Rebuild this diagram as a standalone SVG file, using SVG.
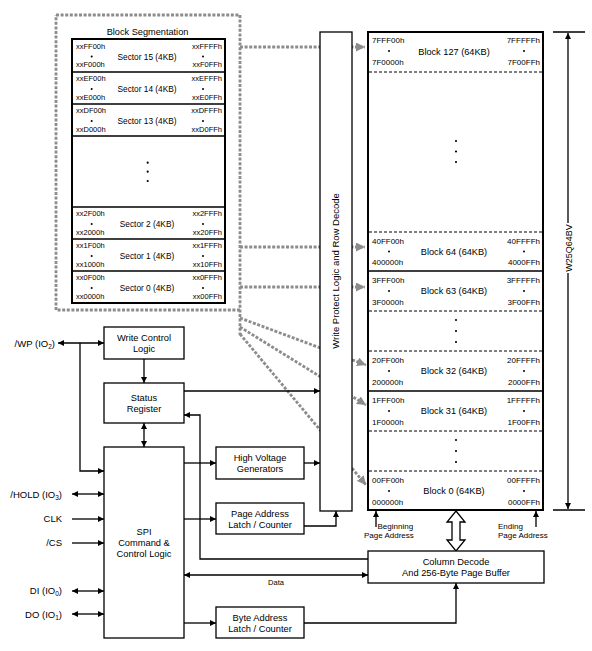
<svg xmlns="http://www.w3.org/2000/svg" width="592" height="651" viewBox="0 0 592 651">
<style>
.t{font-family:"Liberation Sans",Arial,Helvetica,sans-serif;fill:#000}
.bx{font-size:9.3px;text-anchor:middle}
.pin{font-size:9.5px;text-anchor:end}
.sa{font-size:7.5px}
.sl{font-size:8.3px;text-anchor:middle}
.ma{font-size:8px}
.ml{font-size:9.2px;text-anchor:middle}
.sm{font-size:8px}
.e{text-anchor:end}
.box{fill:#fff;stroke:#000;stroke-width:1.3}
.thick{fill:#fff;stroke:#000;stroke-width:2}
.ln{fill:none;stroke:#000;stroke-width:1.3}
.sep{fill:none;stroke:#000;stroke-width:1.5}
.dash{fill:none;stroke:#000;stroke-width:1;stroke-dasharray:3 2}
.dot{fill:none;stroke:#8c8c8c;stroke-width:2.8;stroke-dasharray:3 1.6}
</style>
<defs>
<marker id="a" viewBox="0 0 10 10" refX="10" refY="5" markerWidth="8" markerHeight="6" markerUnits="userSpaceOnUse" orient="auto-start-reverse"><path d="M0,0L10,5L0,10z" fill="#000"/></marker>
<marker id="g" viewBox="0 0 10 10" refX="10" refY="5" markerWidth="9" markerHeight="9" markerUnits="userSpaceOnUse" orient="auto"><path d="M0,0L10,5L0,10z" fill="#8c8c8c"/></marker>
</defs>
<rect width="592" height="651" fill="#fff"/>

<g id="connectors">
  <!-- dotted segmentation links -->
  <path class="dot" d="M56,15H240V335M240,310H56V15"/>
  <path class="dot" d="M240,47H365" marker-end="url(#g)"/>
  <path class="dot" d="M240,247H365" marker-end="url(#g)"/>
  <path class="dot" d="M240,287H365" marker-end="url(#g)"/>
  <path class="dot" d="M240,318L366,365" marker-end="url(#g)"/>
  <path class="dot" d="M240,327L366,405" marker-end="url(#g)"/>
  <path class="dot" d="M240,334L366,485" marker-end="url(#g)"/>
  <!-- pins -->
  <path class="ln" d="M58,343H104" marker-start="url(#a)" marker-end="url(#a)"/>
  <path class="ln" d="M80,343V471H104" marker-end="url(#a)"/>
  <path class="ln" d="M72,494H104" marker-start="url(#a)" marker-end="url(#a)"/>
  <path class="ln" d="M72,519H104" marker-end="url(#a)"/>
  <path class="ln" d="M72,543H104" marker-end="url(#a)"/>
  <path class="ln" d="M72,591H104" marker-start="url(#a)" marker-end="url(#a)"/>
  <path class="ln" d="M72,614H104" marker-start="url(#a)" marker-end="url(#a)"/>
  <!-- internal -->
  <path class="ln" d="M144,359V383" marker-end="url(#a)"/>
  <path class="ln" d="M144,423V447" marker-start="url(#a)" marker-end="url(#a)"/>
  <path class="ln" d="M184,391H320" marker-end="url(#a)"/>
  <path class="ln" d="M368,559H200V415H184" marker-end="url(#a)"/>
  <path class="ln" d="M184,463H216" marker-end="url(#a)"/>
  <path class="ln" d="M304,463H320" marker-end="url(#a)"/>
  <path class="ln" d="M184,519H216" marker-end="url(#a)"/>
  <path class="ln" d="M304,526H336V511" marker-end="url(#a)"/>
  <path class="ln" d="M184,575H368" marker-start="url(#a)" marker-end="url(#a)"/>
  <path class="ln" d="M184,623H216" marker-end="url(#a)"/>
  <path class="ln" d="M304,623H456V583" marker-end="url(#a)"/>
  <path class="ln" d="M376,527V511" marker-end="url(#a)"/>
  <path class="ln" d="M536,527V511" marker-end="url(#a)"/>
  <path d="M456,511L465,522H460V540H465L456,551L447,540H452V522H447Z" fill="#fff" stroke="#000" stroke-width="1.3"/>
  <!-- dimension -->
  <path class="ln" d="M553,32H585M553,510H585"/>
  <path class="ln" d="M568,223V33" marker-end="url(#a)"/>
  <path class="ln" d="M568,273V509" marker-end="url(#a)"/>
  <text class="t" x="276" y="585" font-size="7.5" text-anchor="middle">Data</text>
</g>

<g id="pins" class="t">
  <text class="pin" x="55" y="347">/WP (IO<tspan font-size="6.5" dy="2">2</tspan><tspan dy="-2">)</tspan></text>
  <text class="pin" x="62" y="498">/HOLD (IO<tspan font-size="6.5" dy="2">3</tspan><tspan dy="-2">)</tspan></text>
  <text class="pin" x="62" y="522">CLK</text>
  <text class="pin" x="62" y="546">/CS</text>
  <text class="pin" x="62" y="594">DI (IO<tspan font-size="6.5" dy="2">0</tspan><tspan dy="-2">)</tspan></text>
  <text class="pin" x="62" y="618">DO (IO<tspan font-size="6.5" dy="2">1</tspan><tspan dy="-2">)</tspan></text>
</g>

<g id="block-segmentation" class="t">
  <text x="147.5" y="35" font-size="9.2" text-anchor="middle">Block Segmentation</text>
  <rect class="thick" x="72" y="39" width="153" height="264"/>
  <path class="sep" d="M72,72H225M72,104H225M72,136H225M72,207H225M72,239H225M72,271H225"/>
  <circle cx="147.7" cy="162.7" r="1.1"/><circle cx="147.7" cy="171.7" r="1.1"/><circle cx="147.7" cy="181" r="1.1"/>
  <g id="sector15"><text class="sa" x="76" y="48.5">xxFF00h</text><text class="sa" x="76" y="67">xxF000h</text><text class="sa e" x="222" y="48.5">xxFFFFh</text><text class="sa e" x="222" y="67">xxF0FFh</text><circle cx="91.7" cy="56.5" r="1"/><circle cx="203" cy="56.5" r="1"/><text class="sl" x="147" y="59.5">Sector 15 (4KB)</text></g>
  <g id="sector14"><text class="sa" x="76" y="81">xxEF00h</text><text class="sa" x="76" y="99.5">xxE000h</text><text class="sa e" x="222" y="81">xxEFFFh</text><text class="sa e" x="222" y="99.5">xxE0FFh</text><circle cx="91.7" cy="89" r="1"/><circle cx="203" cy="89" r="1"/><text class="sl" x="147" y="92">Sector 14 (4KB)</text></g>
  <g id="sector13"><text class="sa" x="76" y="113">xxDF00h</text><text class="sa" x="76" y="131.5">xxD000h</text><text class="sa e" x="222" y="113">xxDFFFh</text><text class="sa e" x="222" y="131.5">xxD0FFh</text><circle cx="91.7" cy="121" r="1"/><circle cx="203" cy="121" r="1"/><text class="sl" x="147" y="124">Sector 13 (4KB)</text></g>
  <g id="sector2"><text class="sa" x="76" y="216">xx2F00h</text><text class="sa" x="76" y="234.5">xx2000h</text><text class="sa e" x="222" y="216">xx2FFFh</text><text class="sa e" x="222" y="234.5">xx20FFh</text><circle cx="91.7" cy="224" r="1"/><circle cx="203" cy="224" r="1"/><text class="sl" x="147" y="227">Sector 2 (4KB)</text></g>
  <g id="sector1"><text class="sa" x="76" y="248">xx1F00h</text><text class="sa" x="76" y="266.5">xx1000h</text><text class="sa e" x="222" y="248">xx1FFFh</text><text class="sa e" x="222" y="266.5">xx10FFh</text><circle cx="91.7" cy="256" r="1"/><circle cx="203" cy="256" r="1"/><text class="sl" x="147" y="259">Sector 1 (4KB)</text></g>
  <g id="sector0"><text class="sa" x="76" y="280">xx0F00h</text><text class="sa" x="76" y="298.5">xx0000h</text><text class="sa e" x="222" y="280">xx0FFFh</text><text class="sa e" x="222" y="298.5">xx00FFh</text><circle cx="91.7" cy="288" r="1"/><circle cx="203" cy="288" r="1"/><text class="sl" x="147" y="291">Sector 0 (4KB)</text></g>
</g>

<g id="write-protect" class="t">
  <rect class="box" x="320" y="32" width="32" height="479"/>
  <text transform="translate(339,271) rotate(-90)" font-size="9.5" text-anchor="middle">Write Protect Logic and Row Decode</text>
</g>

<g id="memory-array" class="t">
  <rect class="thick" x="368" y="32" width="175" height="478"/>
  <path class="dash" d="M369,72H542M369,232H542M369,311H542M369,351H542M369,431H542M369,471H542"/>
  <path class="sep" d="M369,271H542M369,391H542"/>
  <circle cx="456" cy="141" r="1.1"/><circle cx="456" cy="151.5" r="1.1"/><circle cx="456" cy="162" r="1.1"/>
  <circle cx="456" cy="320" r="1.1"/><circle cx="456" cy="331" r="1.1"/><circle cx="456" cy="342" r="1.1"/>
  <circle cx="456" cy="440" r="1.1"/><circle cx="456" cy="451" r="1.1"/><circle cx="456" cy="462" r="1.1"/>
  <g id="block127"><text class="ma" x="372" y="43">7FFF00h</text><text class="ma" x="372" y="65">7F0000h</text><text class="ma e" x="540" y="43">7FFFFFh</text><text class="ma e" x="540" y="65">7F00FFh</text><circle cx="389" cy="51" r="1"/><circle cx="524" cy="51" r="1"/><text class="ml" x="454" y="54.5">Block 127 (64KB)</text></g>
  <g id="block64"><text class="ma" x="372" y="243.5">40FF00h</text><text class="ma" x="372" y="265">400000h</text><text class="ma e" x="540" y="243.5">40FFFFh</text><text class="ma e" x="540" y="265">4000FFh</text><circle cx="389" cy="251.5" r="1"/><circle cx="524" cy="251.5" r="1"/><text class="ml" x="454" y="254.5">Block 64 (64KB)</text></g>
  <g id="block63"><text class="ma" x="372" y="283">3FFF00h</text><text class="ma" x="372" y="304.5">3F0000h</text><text class="ma e" x="540" y="283">3FFFFFh</text><text class="ma e" x="540" y="304.5">3F00FFh</text><circle cx="389" cy="291" r="1"/><circle cx="524" cy="291" r="1"/><text class="ml" x="454" y="294">Block 63 (64KB)</text></g>
  <g id="block32"><text class="ma" x="372" y="363">20FF00h</text><text class="ma" x="372" y="384.5">200000h</text><text class="ma e" x="540" y="363">20FFFFh</text><text class="ma e" x="540" y="384.5">2000FFh</text><circle cx="389" cy="371" r="1"/><circle cx="524" cy="371" r="1"/><text class="ml" x="454" y="374">Block 32 (64KB)</text></g>
  <g id="block31"><text class="ma" x="372" y="403">1FFF00h</text><text class="ma" x="372" y="424.5">1F0000h</text><text class="ma e" x="540" y="403">1FFFFFh</text><text class="ma e" x="540" y="424.5">1F00FFh</text><circle cx="389" cy="411" r="1"/><circle cx="524" cy="411" r="1"/><text class="ml" x="454" y="414">Block 31 (64KB)</text></g>
  <g id="block0"><text class="ma" x="372" y="483">00FF00h</text><text class="ma" x="372" y="504.5">000000h</text><text class="ma e" x="540" y="483">00FFFFh</text><text class="ma e" x="540" y="504.5">0000FFh</text><circle cx="389" cy="491" r="1"/><circle cx="524" cy="491" r="1"/><text class="ml" x="454" y="494">Block 0 (64KB)</text></g>
  <text class="sm" x="377.5" y="528.5">Beginning</text>
  <text class="sm" x="364" y="538">Page Address</text>
  <text class="sm" x="498" y="528.5">Ending</text>
  <text class="sm" x="498" y="538">Page Address</text>
  <text transform="translate(572,248) rotate(-90)" font-size="9" text-anchor="middle">W25Q64BV</text>
</g>

<g id="write-control-logic" class="t"><rect class="box" x="104" y="327" width="80" height="32"/><text class="bx" x="144" y="341">Write Control</text><text class="bx" x="144" y="352">Logic</text></g>
<g id="status-register" class="t"><rect class="box" x="104" y="383" width="80" height="40"/><text class="bx" x="144" y="401">Status</text><text class="bx" x="144" y="412">Register</text></g>
<g id="spi-control" class="t"><rect class="box" x="104" y="447" width="80" height="191"/><text class="bx" x="144" y="534.5">SPI</text><text class="bx" x="144" y="546">Command &amp;</text><text class="bx" x="144" y="557">Control Logic</text></g>
<g id="high-voltage" class="t"><rect class="box" x="216" y="447" width="88" height="32"/><text class="bx" x="260" y="461">High Voltage</text><text class="bx" x="260" y="472">Generators</text></g>
<g id="page-address" class="t"><rect class="box" x="216" y="503" width="88" height="31"/><text class="bx" x="260" y="517">Page Address</text><text class="bx" x="260" y="528">Latch / Counter</text></g>
<g id="byte-address" class="t"><rect class="box" x="216" y="607" width="88" height="31"/><text class="bx" x="260" y="621">Byte Address</text><text class="bx" x="260" y="632">Latch / Counter</text></g>
<g id="column-decode" class="t"><rect class="box" x="368" y="551" width="176" height="32"/><text class="bx" x="456" y="564.5">Column Decode</text><text class="bx" x="456" y="575.5">And 256-Byte Page Buffer</text></g>
</svg>
